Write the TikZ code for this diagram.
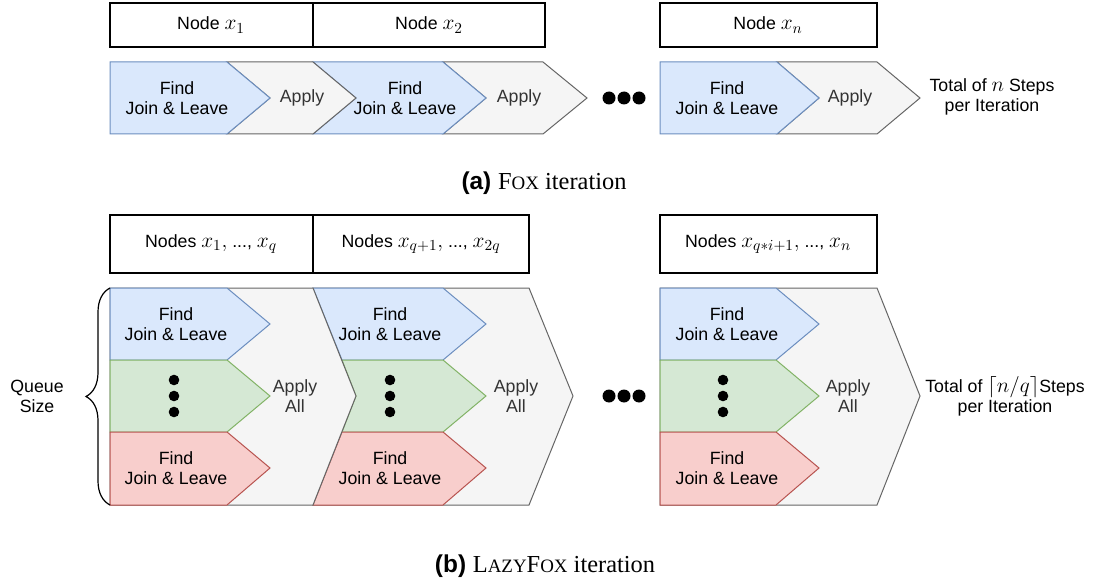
\RequirePackage{fix-cm}
\documentclass[tikz,border=0pt]{standalone}
\usepackage[no-math]{fontspec}
\setmainfont{Liberation Sans}
\newfontfamily\capserif{Liberation Serif}
\usepackage{xcolor}
\usetikzlibrary{positioning,decorations.pathreplacing}
\DeclareMathSizes{13.3}{16}{11.5}{9}
\definecolor{blueFill}{HTML}{DAE8FC}
\definecolor{blueLine}{HTML}{6C8EBF}
\definecolor{greenFill}{HTML}{D5E8D4}
\definecolor{greenLine}{HTML}{82B366}
\definecolor{redFill}{HTML}{F8CECC}
\definecolor{redLine}{HTML}{B85450}
\definecolor{grayFill}{HTML}{F5F5F5}
\definecolor{grayLine}{HTML}{666666}
\definecolor{grayText}{HTML}{333333}
% fake small caps for the captions
\newcommand{\fakesc}[2]{#1{\fontsize{14.2}{16}\selectfont #2}}

\begin{document}
\begin{tikzpicture}[x=0.75pt,y=-0.75pt,
  nodebox/.style={draw=black,line width=1.1pt},
  findblue/.style={draw=blueLine,fill=blueFill,line width=0.75pt},
  findgreen/.style={draw=greenLine,fill=greenFill,line width=0.75pt},
  findred/.style={draw=redLine,fill=redFill,line width=0.75pt},
  applygray/.style={draw=grayLine,fill=grayFill,line width=0.75pt},
  txt/.style={font=\fontsize{13.3}{15}\selectfont,align=center,inner sep=0pt},
  applytxt/.style={txt,text=grayText},
  captxt/.style={font=\fontsize{18.3}{20}\selectfont,inner sep=0pt}]
  \useasboundingbox (0,0) rectangle (1106,581);

  % (a) Fox iteration
  \draw[nodebox] (110,3) rectangle (313,47);
  \draw[nodebox] (313,3) rectangle (545,47);
  \draw[nodebox] (660,3) rectangle (877,47);
  \node[txt] (boxa1) at (211,25) {Node $x_1$};
  \node[txt] (boxa2) at (429,25) {Node $x_2$};
  \node[txt] (boxa3) at (768,25) {Node $x_n$};

  \draw[applygray] (777,62) -- (877,62) -- (920,98) -- (877,134) -- (777,134) -- (819,98) -- cycle;
  \draw[findblue] (660,62) -- (777,62) -- (819,98) -- (777,134) -- (660,134) -- cycle;
  \draw[applygray] (443,62) -- (543,62) -- (587,98) -- (543,134) -- (443,134) -- (486,98) -- cycle;
  \draw[findblue] (313,62) -- (443,62) -- (486,98) -- (443,134) -- (313,134) -- (356,98) -- cycle;
  \draw[applygray] (227,62) -- (313,62) -- (356,98) -- (313,134) -- (227,134) -- (270,98) -- cycle;
  \draw[findblue] (110,62) -- (227,62) -- (270,98) -- (227,134) -- (110,134) -- cycle;

  \node[txt] (finda1) at (177,98) {Find\\Join \& Leave};
  \node[applytxt] (applya1) at (302,98) {Apply};
  \node[txt] (finda2) at (405,98) {Find\\Join \& Leave};
  \node[applytxt] (applya2) at (519,98) {Apply};
  \node[txt] (finda3) at (727,98) {Find\\Join \& Leave};
  \node[applytxt] (applya3) at (850,98) {Apply};
  \foreach \x in {609,624,639}
    \fill (\x,98) circle[radius=6.5];
  \node[txt] (totala) at (992,97) {Total of $n$ Steps\\per Iteration};
  \node[captxt] (capa) at (544,183) {\textbf{(a)} {\capserif\fakesc{F}{OX} iteration}};

  % (b) LazyFox iteration
  \draw[nodebox] (110,215) rectangle (313,273);
  \draw[nodebox] (313,215) rectangle (529,273);
  \draw[nodebox] (660,215) rectangle (877,273);
  \node[txt] (boxb1) at (211,244) {Nodes $x_1,$ ..., $x_q$};
  \node[txt] (boxb2) at (421,244) {Nodes $x_{q+1},$ ..., $x_{2q}$};
  \node[txt] (boxb3) at (768,244) {Nodes $x_{q*i+1},$ ..., $x_n$};

  \draw[applygray] (660,288) -- (877,288) -- (920,396) -- (877,505) -- (660,505) -- cycle;
  \draw[findblue] (660,288) -- (776,288) -- (819,324) -- (776,360) -- (660,360) -- cycle;
  \draw[findgreen] (660,360) -- (776,360) -- (819,396) -- (776,432) -- (660,432) -- cycle;
  \draw[findred] (660,432) -- (776,432) -- (819,468) -- (776,505) -- (660,505) -- cycle;

  \draw[applygray] (313,288) -- (529,288) -- (573,396) -- (529,505) -- (313,505) -- (356,396) -- cycle;
  \draw[findblue] (313,288) -- (443,288) -- (486,324) -- (443,360) -- (342,360) -- cycle;
  \draw[findgreen] (342,360) -- (443,360) -- (486,396) -- (443,432) -- (342,432) -- (356,396) -- cycle;
  \draw[findred] (342,432) -- (443,432) -- (486,468) -- (443,505) -- (313,505) -- cycle;

  \draw[applygray] (110,288) -- (313,288) -- (356,396) -- (313,505) -- (110,505) -- cycle;
  \draw[findblue] (110,288) -- (227,288) -- (270,324) -- (227,360) -- (110,360) -- cycle;
  \draw[findgreen] (110,360) -- (227,360) -- (270,396) -- (227,432) -- (110,432) -- cycle;
  \draw[findred] (110,432) -- (227,432) -- (270,468) -- (227,505) -- (110,505) -- cycle;

  \node[txt] (findb1) at (176,324) {Find\\Join \& Leave};
  \node[txt] (lastb1) at (176,468) {Find\\Join \& Leave};
  \node[applytxt] (applyb1) at (295,396) {Apply\\All};
  \node[txt] (findb2) at (390,324) {Find\\Join \& Leave};
  \node[txt] (lastb2) at (390,468) {Find\\Join \& Leave};
  \node[applytxt] (applyb2) at (516,396) {Apply\\All};
  \node[txt] (findb3) at (727,324) {Find\\Join \& Leave};
  \node[txt] (lastb3) at (727,468) {Find\\Join \& Leave};
  \node[applytxt] (applyb3) at (848,396) {Apply\\All};
  \foreach \x in {174,390,723}
    \foreach \y in {380,396,412}
      \fill (\x,\y) circle[radius=5.3];
  \foreach \x in {609,624,639}
    \fill (\x,396) circle[radius=6.5];

  \draw[line width=0.9pt,decorate,decoration={brace,amplitude=18pt}] (110,505) -- (110,288);
  \node[txt] (queue) at (37,396) {Queue\\Size};
  \node[txt] (totalb) at (1005,396) {Total of $\lceil n/q\rceil$Steps\\per Iteration};
  \node[captxt] (capb) at (545,566) {\textbf{(b)} {\capserif\fakesc{L}{AZY}\fakesc{F}{OX} iteration}};
\end{tikzpicture}
\end{document}
